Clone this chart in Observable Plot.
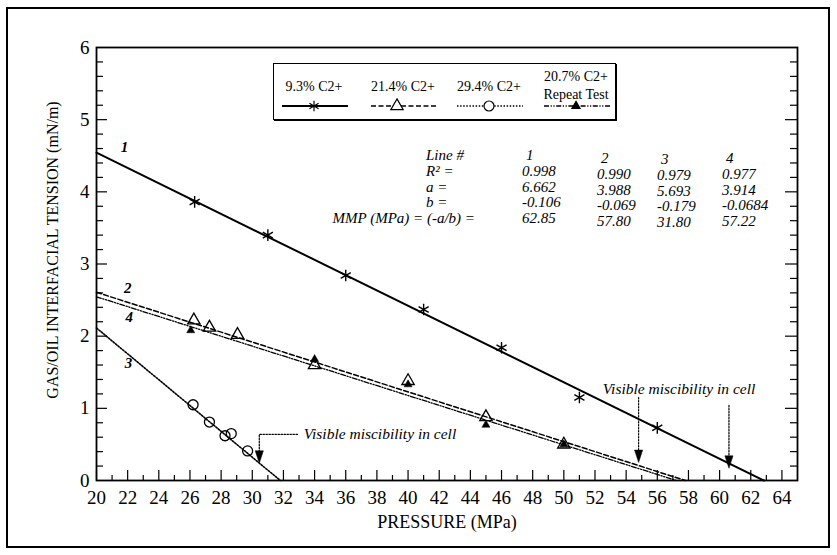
<!DOCTYPE html>
<html><head><meta charset="utf-8">
<script src="https://cdn.jsdelivr.net/npm/d3@7"></script>
<script src="https://cdn.jsdelivr.net/npm/@observablehq/plot@0.6"></script>
<style>
body{margin:0;background:#fff;}
#wrap{position:relative;width:837px;height:555px;font-family:"Liberation Serif","DejaVu Serif","Times New Roman",Times,serif;color:#000;overflow:hidden}
#wrap svg{position:absolute;left:0;top:0}
#border{position:absolute;left:6px;top:7px;width:824px;height:541px;border:2px solid #000;box-sizing:border-box;pointer-events:none}
.t{position:absolute;font-style:italic;font-size:15px;white-space:nowrap;line-height:1;transform:translateY(-50%)}
.r{transform:translate(-100%,-50%)}
#legend{position:absolute;left:273px;top:63px;width:343px;height:57px;border:1.5px solid #000;box-sizing:border-box;background:#fff;box-shadow:1px 1px 0 #000}
#legend svg{position:absolute;left:0;top:0}
</style></head><body><div id="wrap"><div id="border"></div></div>
<script>
// ---------- data ----------
const lineIds = ["1", "2", "3", "4"];
const r2Text  = ["0.998", "0.990", "0.979", "0.977"];
const aText   = ["6.662", "3.988", "5.693", "3.914"];
const bText   = ["-0.106", "-0.069", "-0.179", "-0.0684"];
const mmpText = ["62.85", "57.80", "31.80", "57.22"];
const seriesNames = ["9.3% C2+", "21.4% C2+", "29.4% C2+", "20.7% C2+"];
const seriesSub   = ["", "", "", "Repeat Test"];

// measured points
const c93x  = [26.3, 31.0, 36.0, 41.0, 46.0, 51.0, 56.0];
const c93y  = [3.86, 3.40, 2.84, 2.37, 1.84, 1.15, 0.73];
const c214x = [26.25, 27.25, 29.05, 34.0, 40.0, 45.0, 50.0];
const c214y = [2.22, 2.12, 2.02, 1.60, 1.38, 0.88, 0.50];
const c294x = [26.2, 27.25, 28.25, 28.65, 29.7];
const c294y = [1.05, 0.81, 0.62, 0.65, 0.41];
const c207x = [26.05, 34.0, 40.0, 45.0, 50.0];
const c207y = [2.08, 1.68, 1.33, 0.77, 0.50];

// annotations
const lineLabelX = [21.8, 22.0, 22.05, 22.1];
const lineLabelY = [4.62, 2.66, 1.62, 2.26];
const noteText = ["Visible miscibility in cell", "Visible miscibility in cell"];
const noteX = [33.3, 52.5];
const noteY = [0.64, 1.27];
const leaderX = [[32.9, 30.45, 30.45], [54.8, 54.8], [60.6, 60.6]];
const leaderY = [[0.64, 0.64, 0.32], [1.15, 0.35], [1.04, 0.27]];
const tipX = [30.45, 54.8, 60.6];
const tipY = [0.24, 0.25, 0.17];

const xTickLabels = d3.range(20, 65, 2);
const yTickLabels = [0, 1, 2, 3, 4, 5, 6];
const xLabel = "PRESSURE (MPa)";
const yLabel = "GAS/OIL INTERFACIAL TENSION (mN/m)";

// ---------- derived ----------
const W = 837, H = 555, mL = 96, mR = 40, mT = 47, mB = 75;
const pw = W - mL - mR, ph = H - mT - mB;
const styles = [
  {dash: null, w: 2},
  {dash: "5,2.5", w: 1.5},
  {dash: "1.5,1.6", w: 1.6},
  {dash: "5,1.6,1.2,1.6,1.2,1.6", w: 1.3}
];
const fitLines = lineIds.map((id, i) => {
  const a = +aText[i], b = +bText[i];
  return {id, pts: [{x: 20, y: a + b * 20}, {x: +mmpText[i], y: 0}]};
});
const zip = (xs, ys) => xs.map((x, i) => ({x, y: ys[i]}));
const xMinor = d3.range(21, 65, 2);
const yMinor = d3.range(1, 30).map(i => i / 5).filter(v => Math.abs(v - Math.round(v)) > 1e-6);
const yMajor = [1, 2, 3, 4, 5];
const downTip = {draw(ctx, size) { const s = Math.sqrt(size), w = s * 1.15, h = s * 1.75;
  ctx.moveTo(0, 0); ctx.lineTo(-w / 2, -h); ctx.lineTo(w / 2, -h); ctx.closePath(); }};
const serif = "'Liberation Serif', 'DejaVu Serif', 'Times New Roman', Times, serif";

const marks = [
  Plot.frame({strokeWidth: 1.8}),
  Plot.tickX(xTickLabels, {x: d => d, insetTop: ph - 10, strokeWidth: 1.2}),
  Plot.tickX(xMinor, {x: d => d, insetTop: ph - 5, strokeWidth: 1.2}),
  Plot.tickY(yMajor, {y: d => d, insetRight: pw - 11, strokeWidth: 1.2}),
  Plot.tickY(yMinor, {y: d => d, insetRight: pw - 7, strokeWidth: 1.2}),
  Plot.tickY(yMajor, {y: d => d, insetLeft: pw - 12, strokeWidth: 1.2}),
  Plot.tickY(yMinor, {y: d => d, insetLeft: pw - 7, strokeWidth: 1.2}),
  Plot.axisX(xTickLabels, {tickSize: 0, tickPadding: 10, fontSize: 19, label: null, tickFormat: d => String(d)}),
  Plot.axisY(yTickLabels, {tickSize: 0, tickPadding: 7, fontSize: 19, label: null, tickFormat: d => String(d)}),
  Plot.text([xLabel], {frameAnchor: "bottom", dy: 42, fontSize: 18, lineAnchor: "middle", textAnchor: "middle"}),
  Plot.text([yLabel], {frameAnchor: "left", dx: -44, dy: -14, rotate: -90, fontSize: 16, lineAnchor: "middle", textAnchor: "middle"}),
  ...fitLines.map((l, i) => Plot.line(l.pts, {x: "x", y: "y", stroke: "black", strokeWidth: styles[i].w, strokeDasharray: styles[i].dash})),
  Plot.line(leaderX.flatMap((xs, i) => xs.map((x, j) => ({x, y: leaderY[i][j], k: i}))), {x: "x", y: "y", z: "k", stroke: "black", strokeWidth: 1.2, strokeDasharray: "1.5,1.5"}),
  Plot.dot(zip(tipX, tipY), {x: "x", y: "y", symbol: downTip, r: 4, fill: "black", stroke: "black", strokeWidth: 0.5}),
  Plot.dot(zip(c93x, c93y), {x: "x", y: "y", symbol: "asterisk", r: 5.5, stroke: "black", strokeWidth: 1.4}),
  Plot.dot(zip(c214x, c214y), {x: "x", y: "y", symbol: "triangle", r: 4.6, stroke: "black", fill: "none", strokeWidth: 1.3}),
  Plot.dot(zip(c294x, c294y), {x: "x", y: "y", symbol: "circle", r: 5, stroke: "black", fill: "none", strokeWidth: 1.3}),
  Plot.dot(zip(c207x, c207y), {x: "x", y: "y", symbol: "triangle", r: 3, fill: "black", stroke: "black", strokeWidth: 0.5}),
  Plot.text(lineIds, {x: (d, i) => lineLabelX[i], y: (d, i) => lineLabelY[i], text: d => d, fontStyle: "italic", fontSize: 15, fontWeight: "bold"}),
  Plot.text(noteText, {x: (d, i) => noteX[i], y: (d, i) => noteY[i], text: d => d, textAnchor: "start", fontStyle: "italic", fontSize: 15.5})
];

const chart = Plot.plot({
  width: W, height: H, marginLeft: mL, marginRight: mR, marginTop: mT, marginBottom: mB,
  x: {domain: [20, 65]}, y: {domain: [0, 6]},
  style: {fontFamily: serif, fontSize: "15px", color: "black", background: "transparent"},
  marks
});
const wrap = document.getElementById("wrap");
wrap.insertBefore(chart, wrap.firstChild);

// ---------- statistics table ----------
const rowY = [155, 171, 186.5, 202, 217.5];
const colX = [522, 597, 657, 722];
const colDy = [0, 3, 4, 3];
const rowLabels = ["Line #", "R\u00b2 =", "a =", "b =", "MMP (MPa) = (-a/b) ="];
const rowVals = [lineIds, r2Text, aText, bText, mmpText];
rowLabels.forEach((lab, r) => {
  const s = document.createElement("span");
  s.className = "t" + (r === 4 ? " r" : "");
  s.textContent = lab;
  s.style.left = (r === 4 ? 475 : 426) + "px";
  s.style.top = rowY[r] + "px";
  wrap.appendChild(s);
  rowVals[r].forEach((v, c) => {
    const e = document.createElement("span");
    e.className = "t";
    e.textContent = v;
    e.style.left = colX[c] + (r === 0 ? 4 : 0) + "px";
    e.style.top = (rowY[r] + colDy[c]) + "px";
    wrap.appendChild(e);
  });
});

// ---------- legend ----------
const leg = d3.select(wrap).append("div").attr("id", "legend");
const lsvg = leg.append("svg").attr("width", 343).attr("height", 57)
  .style("font-family", serif).style("font-size", "14px");
const cx = [40, 129, 215, 302];
const legSym = [d3.symbolAsterisk, d3.symbolTriangle, d3.symbolCircle, d3.symbolTriangle];
const legR = [5, 4.6, 5, 3];
const legFill = ["none", "white", "white", "black"];
seriesNames.forEach((name, i) => {
  const g = lsvg.append("g").attr("transform", `translate(${cx[i]},0)`);
  if (seriesSub[i]) {
    g.append("text").attr("y", 12).attr("dy", "0.35em").attr("text-anchor", "middle").text(name);
    g.append("text").attr("y", 30).attr("dy", "0.35em").attr("text-anchor", "middle").text(seriesSub[i]);
  } else {
    g.append("text").attr("y", 22).attr("dy", "0.35em").attr("text-anchor", "middle").text(name);
  }
  g.append("line").attr("x1", -32).attr("x2", 34).attr("y1", 42).attr("y2", 42)
    .attr("stroke", "black").attr("stroke-width", styles[i].w).attr("stroke-dasharray", styles[i].dash);
  g.append("path").attr("transform", `translate(${i === 1 ? -6 : 0},42)`)
    .attr("d", d3.symbol(legSym[i], Math.PI * legR[i] * legR[i])())
    .attr("fill", legFill[i]).attr("stroke", "black").attr("stroke-width", 1.2);
});
</script>
</body></html>
